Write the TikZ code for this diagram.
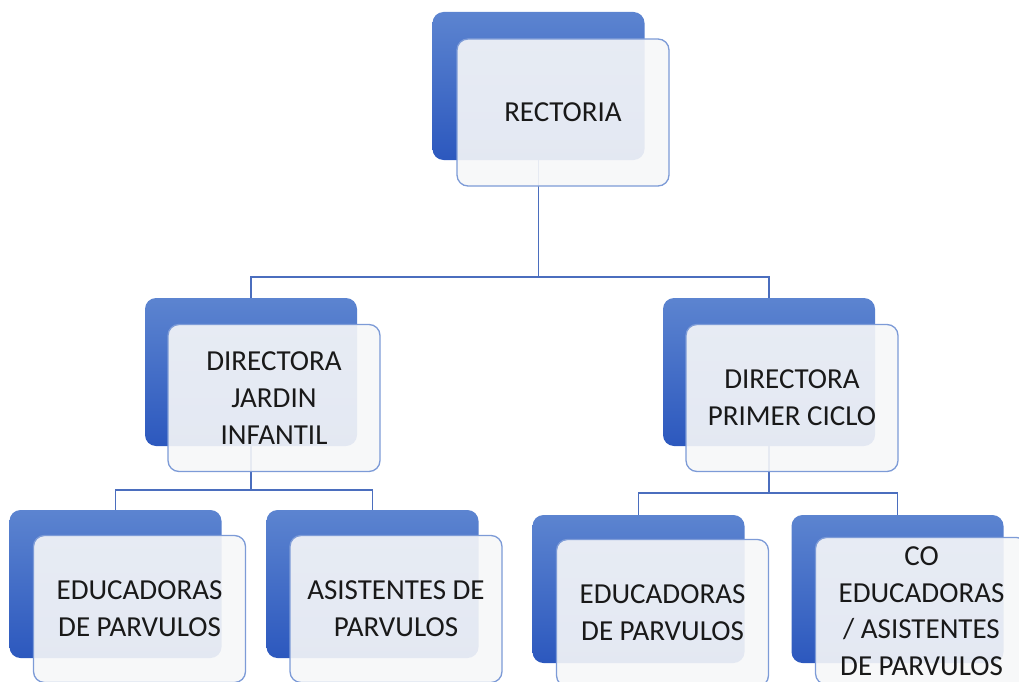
\documentclass[tikz,border=0pt]{standalone}
\usepackage{fontspec}
\setmainfont{Carlito}
\usetikzlibrary{backgrounds}
\definecolor{backtop}{RGB}{92,132,208}
\definecolor{backbot}{RGB}{44,88,190}
\definecolor{frontfill}{RGB}{246,247,248}
\definecolor{frontdraw}{RGB}{125,155,215}
\definecolor{linkc}{RGB}{75,110,190}
\definecolor{txt}{RGB}{25,25,25}
\tikzset{
  backbox/.style={minimum width=212pt, minimum height=148pt, rounded corners=11pt,
    top color=backtop, bottom color=backbot, draw=none, inner sep=0pt},
  frontbox/.style={minimum width=212pt, minimum height=147pt, rounded corners=11pt,
    fill=frontfill, fill opacity=0.91, text opacity=1, draw=frontdraw, line width=1.3pt,
    text=txt, align=center, font=\fontsize{29}{37}\selectfont, inner sep=0pt},
  link/.style={draw=linkc, line width=1.4pt}
}
\begin{document}
\begin{tikzpicture}[x=1pt,y=-1pt]
\useasboundingbox (0,0) rectangle (1019,682);
% back boxes
\node[backbox] (rB) at (538.5,86) {};
\node[backbox] (jB) at (251,372) {};
\node[backbox] (pB) at (769,372) {};
\node[backbox] (e1B) at (115.5,584) {};
\node[backbox] (a1B) at (372.5,584) {};
\node[backbox] (e2B) at (638.5,589) {};
\node[backbox] (cB) at (897.5,589) {};
% front boxes
\node[frontbox] (rF) at (563,112.5) {RECTORIA};
\node[frontbox] (jF) at (274,398) {DIRECTORA\\JARDIN\\INFANTIL};
\node[frontbox] (pF) at (792,398) {DIRECTORA\\PRIMER CICLO};
\node[frontbox] (e1F) at (139.5,609) {EDUCADORAS\\DE PARVULOS};
\node[frontbox] (a1F) at (396,609) {ASISTENTES DE\\PARVULOS};
\node[frontbox] (e2F) at (662.5,613) {EDUCADORAS\\DE PARVULOS};
\node[frontbox, font=\fontsize{29}{36.5}\selectfont] (cF) at (921.5,611) {CO\\EDUCADORAS\\/ ASISTENTES\\DE PARVULOS};
% connectors
\coordinate (bus0) at (538.5,277);
\coordinate (bus1) at (251,490);
\coordinate (bus2) at (769,493);
\begin{scope}[on background layer]
\draw[link] (rB) -- (bus0) -| (jB);
\draw[link] (bus0) -| (pB);
\draw[link] (jB) -- (bus1) -| (e1B);
\draw[link] (bus1) -| (a1B);
\draw[link] (pB) -- (bus2) -| (e2B);
\draw[link] (bus2) -| (cB);
\end{scope}
\end{tikzpicture}
\end{document}
